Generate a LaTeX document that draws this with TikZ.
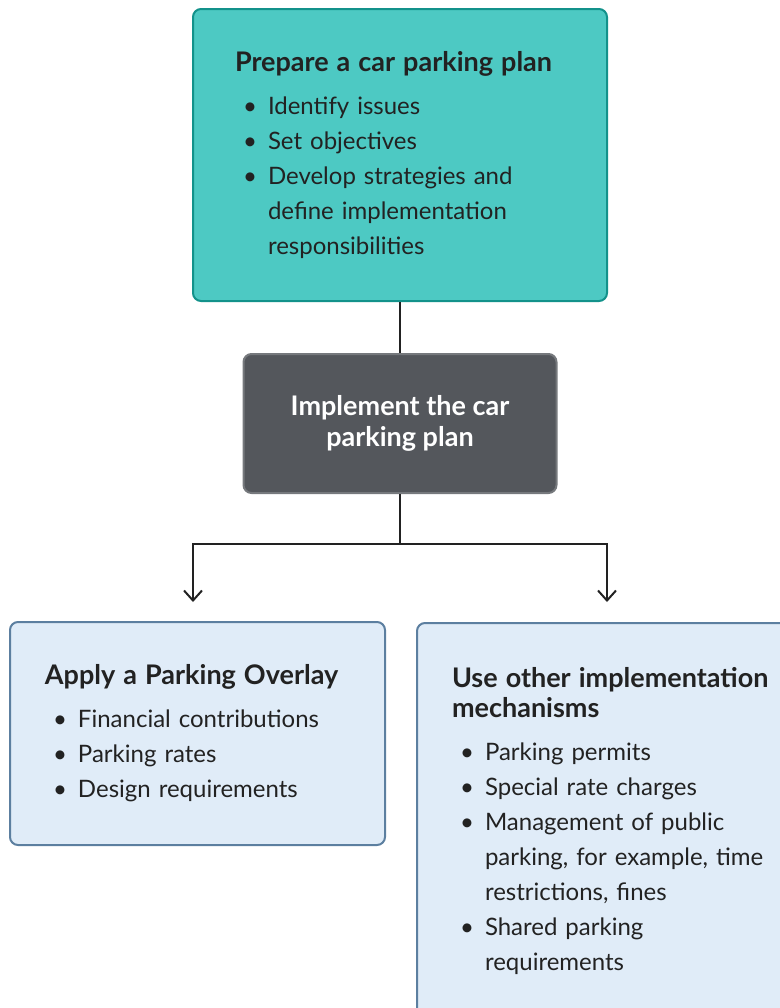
\documentclass[tikz,border=0pt]{standalone}
\usepackage{fontspec}
\setmainfont{Lato}
\usepackage{enumitem}
\usetikzlibrary{arrows.meta, positioning}

\definecolor{tealbox}{HTML}{4DC9C3}
\definecolor{tealline}{HTML}{13928B}
\definecolor{darkbox}{HTML}{54575C}
\definecolor{bluebox}{HTML}{E0ECF8}
\definecolor{blueline}{HTML}{5C7FA0}
\definecolor{testo}{HTML}{222222}

% titolo dei riquadri e lista puntata
\newcommand{\titolo}[1]{{\fontsize{13.5}{15}\selectfont\bfseries #1\par}\vspace{4pt}}
\newlist{punti}{itemize}{1}
\setlist[punti]{label=\textbullet, nosep, leftmargin=16.5pt, labelsep=5.5pt}

\begin{document}
\begin{tikzpicture}[
        x=0.5pt, y=-0.5pt,
        >={Straight Barb[length=5pt, width=9pt]},
        box/.style={
            rectangle,
            draw,
            line width=1pt,
            rounded corners=4pt,
            align=left,
            text=testo,
            font={\fontsize{12}{17.5}\selectfont}
        },
        planbox/.style={
            box,
            fill=tealbox,
            draw=tealline,
            inner xsep=21pt,
            text width=165pt,
            minimum height=146pt
        },
        implbox/.style={
            box,
            fill=darkbox,
            draw=darkbox!80!white,
            text=white,
            align=center,
            font={\fontsize{13.5}{15.5}\selectfont\bfseries},
            minimum width=156.5pt,
            minimum height=69.5pt
        },
        toolbox/.style={
            box,
            fill=bluebox,
            draw=blueline,
            inner xsep=17.5pt
        },
        link/.style={
            line width=1pt,
            draw=testo
        }
    ]

    \useasboundingbox (0,0) rectangle (780,1008);
    \clip (0,0) rectangle (780,1008);

    % piano
    \node[planbox] (prep) at (400,155) {\titolo{Prepare a car parking plan}
        \begin{punti}
        \item Identify issues
        \item Set objectives
        \item Develop strategies and\\ define implementation\\ responsibilities
        \end{punti}};

    % attuazione
    \node[implbox, below=25.5pt of prep] (impl) {Implement the car\\ parking plan};

    % strumenti
    \node[toolbox, text width=152.5pt, minimum height=111.5pt] (overlay) at (197.5,733.5) {\titolo{Apply a Parking Overlay}
        \begin{punti}
        \item Financial contributions
        \item Parking rates
        \item Design requirements
        \end{punti}};
    \node[toolbox, anchor=north west, text width=165pt, minimum height=198pt] (altri) at (416,622) {\titolo{Use other implementation\\ mechanisms}
        \begin{punti}
        \item Parking permits
        \item Special rate charges
        \item Management of public\\ parking, for example, time\\ restrictions, fines
        \item Shared parking\\ requirements
        \end{punti}};

    \coordinate (split) at ([yshift=-25pt]impl.south);
    \coordinate (sx) at (193,602);
    \coordinate (dx) at (607,602);

    \draw[link] (prep) -- (impl);
    \draw[link] (impl) -- (split);
    \draw[link, ->] (split) -| (sx);
    \draw[link, ->] (split) -| (dx);

\end{tikzpicture}
\end{document}
